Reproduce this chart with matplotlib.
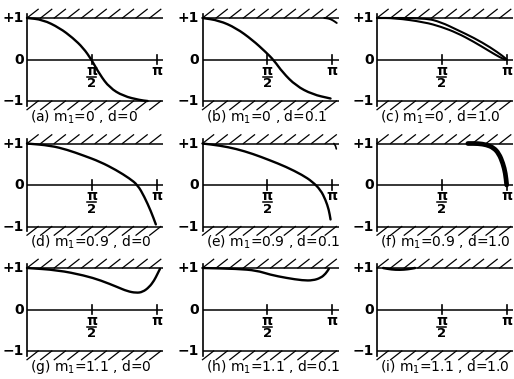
import numpy as np
import matplotlib
matplotlib.use("Agg")
import matplotlib.pyplot as plt
from matplotlib.path import Path
from matplotlib.patches import PathPatch

plt.rcParams['font.family'] = ['DejaVu Sans']
plt.rcParams['mathtext.default'] = 'regular'

# Panel parameters
panel_letters = ['a', 'b', 'c', 'd', 'e', 'f', 'g', 'h', 'i']
m1_values = ['0', '0', '0', '0.9', '0.9', '0.9', '1.1', '1.1', '1.1']
d_values = ['0', '0.1', '1.0', '0', '0.1', '1.0', '0', '0.1', '1.0']
y_tick_labels = ['+1', '0', '\u22121']

# Curves: phase angle (0..pi) vs. normalised response
theta_a = [0.0, 0.38, 0.79, 1.11, 1.36, 1.56, 1.76, 2.00, 2.33, 2.74, 2.92]
y_a = [1.0, 0.96, 0.76, 0.52, 0.28, 0.0, -0.36, -0.68, -0.88, -0.98, -1.0]

theta_b = [0.0, 0.40, 0.81, 1.21, 1.53, 1.73, 1.94, 2.26, 2.66, 3.10]
y_b = [1.0, 0.94, 0.76, 0.47, 0.18, -0.02, -0.31, -0.63, -0.84, -0.94]
theta_b2 = [2.95, 3.05, 3.15, 3.25]
y_b2 = [1.0, 0.99, 0.95, 0.88]

theta_c_upper = [0.0, 1.17, 1.55, 1.95, 2.35, 2.75, 3.05, 3.14]
y_c_upper = [1.0, 1.0, 0.90, 0.71, 0.52, 0.29, 0.08, 0.0]
theta_c_lower = [0.0, 0.43, 1.15, 1.55, 1.94, 2.34, 2.74, 2.98, 3.10]
y_c_lower = [1.0, 1.0, 0.90, 0.79, 0.64, 0.43, 0.19, 0.05, 0.0]

theta_d = [0.0, 0.57, 0.97, 1.37, 1.77, 2.16, 2.48, 2.68, 2.84, 3.00, 3.12]
y_d = [1.0, 0.95, 0.85, 0.71, 0.56, 0.36, 0.16, 0.0, -0.28, -0.63, -0.95]

theta_e = [0.0, 0.42, 0.82, 1.22, 1.62, 2.02, 2.42, 2.66, 2.86, 2.98, 3.06, 3.10]
y_e = [1.0, 0.95, 0.87, 0.75, 0.60, 0.44, 0.24, 0.08, -0.12, -0.36, -0.60, -0.83]
theta_e2 = [3.18, 3.22, 3.24]
y_e2 = [1.0, 0.95, 0.87]

theta_f = [2.20, 2.45, 2.65, 2.82, 2.95, 3.05, 3.11, 3.14]
y_f = [1.0, 1.0, 0.97, 0.90, 0.76, 0.52, 0.28, 0.0]

theta_g = [0.0, 0.74, 1.39, 1.79, 2.19, 2.43, 2.64, 2.80, 2.96, 3.08, 3.16, 3.22]
y_g = [1.0, 0.95, 0.82, 0.70, 0.54, 0.44, 0.40, 0.42, 0.54, 0.70, 0.86, 0.98]

theta_h = [0.0, 0.84, 1.31, 1.63, 2.03, 2.43, 2.67, 2.86, 2.98, 3.06]
y_h = [1.0, 0.98, 0.94, 0.84, 0.76, 0.70, 0.70, 0.76, 0.86, 0.98]

theta_i = [0.15, 0.35, 0.55, 0.75, 0.92]
y_i = [1.0, 0.965, 0.955, 0.97, 1.0]

curves = {
    'a': [(theta_a, y_a, 1.7)],
    'b': [(theta_b, y_b, 1.7), (theta_b2, y_b2, 1.4)],
    'c': [(theta_c_upper, y_c_upper, 1.5), (theta_c_lower, y_c_lower, 1.5)],
    'd': [(theta_d, y_d, 1.7)],
    'e': [(theta_e, y_e, 1.7), (theta_e2, y_e2, 1.2)],
    'f': [(theta_f, y_f, 3.4)],
    'g': [(theta_g, y_g, 1.7)],
    'h': [(theta_h, y_h, 1.7)],
    'i': [(theta_i, y_i, 1.8)],
}


def smooth_curve(ax, xs, ys, lw):
    """Draw a smooth quadratic-Bezier curve guided by the given points."""
    pts = np.column_stack([xs, ys])
    if len(pts) < 3:
        ax.plot(xs, ys, color='black', lw=lw)
        return
    verts = [pts[0], (pts[0] + pts[1]) / 2]
    codes = [Path.MOVETO, Path.LINETO]
    for i in range(1, len(pts) - 1):
        verts += [pts[i], (pts[i] + pts[i + 1]) / 2]
        codes += [Path.CURVE3, Path.CURVE3]
    verts.append(pts[-1])
    codes.append(Path.LINETO)
    ax.add_patch(PathPatch(Path(verts, codes), facecolor='none',
                           edgecolor='black', lw=lw, capstyle='round',
                           joinstyle='round'))


W, H = 514, 379
fig = plt.figure(figsize=(W / 100, H / 100), dpi=100)

col_x0 = [27, 202.5, 377]
row_y0 = [59.5, 185, 309.5]
sx, sy = 41.3, 41.5
left_px, right_px = 30, 137
up_px, down_px = 58, 64

x_end = 3.30
hatch_step = 0.33
hatch_dx, hatch_dy = 0.27, 0.21
label_kw = dict(fontsize=10, fontweight='bold')

for k, letter in enumerate(panel_letters):
    r, c = divmod(k, 3)
    x0, y0 = col_x0[c], row_y0[r]
    rect = [(x0 - left_px) / W, 1 - (y0 + down_px) / H,
            (left_px + right_px) / W, (up_px + down_px) / H]
    ax = fig.add_axes(rect)
    ax.set_xlim(-left_px / sx, right_px / sx)
    ax.set_ylim(-down_px / sy, up_px / sy)
    ax.axis('off')

    # Bounding lines and axis
    for yl in (1.0, 0.0, -1.0):
        ax.plot([0, x_end], [yl, yl], color='black', lw=1.1, solid_capstyle='butt')
    ax.plot([0, 0], [-1.12, 1.1], color='black', lw=1.2)

    # Hatching beyond +1 and -1
    xs = np.arange(0.0, x_end - 0.1, hatch_step)
    for xh in xs:
        ax.plot([xh, xh + hatch_dx], [1.0, 1.0 + hatch_dy], color='black', lw=0.9)
        ax.plot([xh, xh + hatch_dx], [-1.0 - hatch_dy, -1.0], color='black', lw=0.9)

    # Ticks at pi/2 and pi
    for xt in (np.pi / 2, np.pi):
        ax.plot([xt, xt], [-0.12, 0.12], color='black', lw=1.2)
    hx = np.pi / 2
    ax.text(hx, -0.27, r'$\pi$', ha='center', va='center', **label_kw)
    ax.plot([hx - 0.11, hx + 0.11], [-0.42, -0.42], color='black', lw=1.1)
    ax.text(hx, -0.58, '2', ha='center', va='center', fontsize=9.5, fontweight='bold')
    ax.text(np.pi, -0.27, r'$\pi$', ha='center', va='center', **label_kw)

    # Y labels
    for yv, lab in zip((1.0, 0.0, -1.0), y_tick_labels):
        ax.text(-0.08, yv, lab, ha='right', va='center', **label_kw)

    # Curves
    for th, yy, lw in curves[letter]:
        smooth_curve(ax, th, yy, lw)

    caption = f'({letter}) m$_1$={m1_values[k]} , d={d_values[k]}'
    ax.text(0.08, -1.39, caption, ha='left', va='center', fontsize=10)

fig.savefig('out.png', dpi=100, facecolor='white')
